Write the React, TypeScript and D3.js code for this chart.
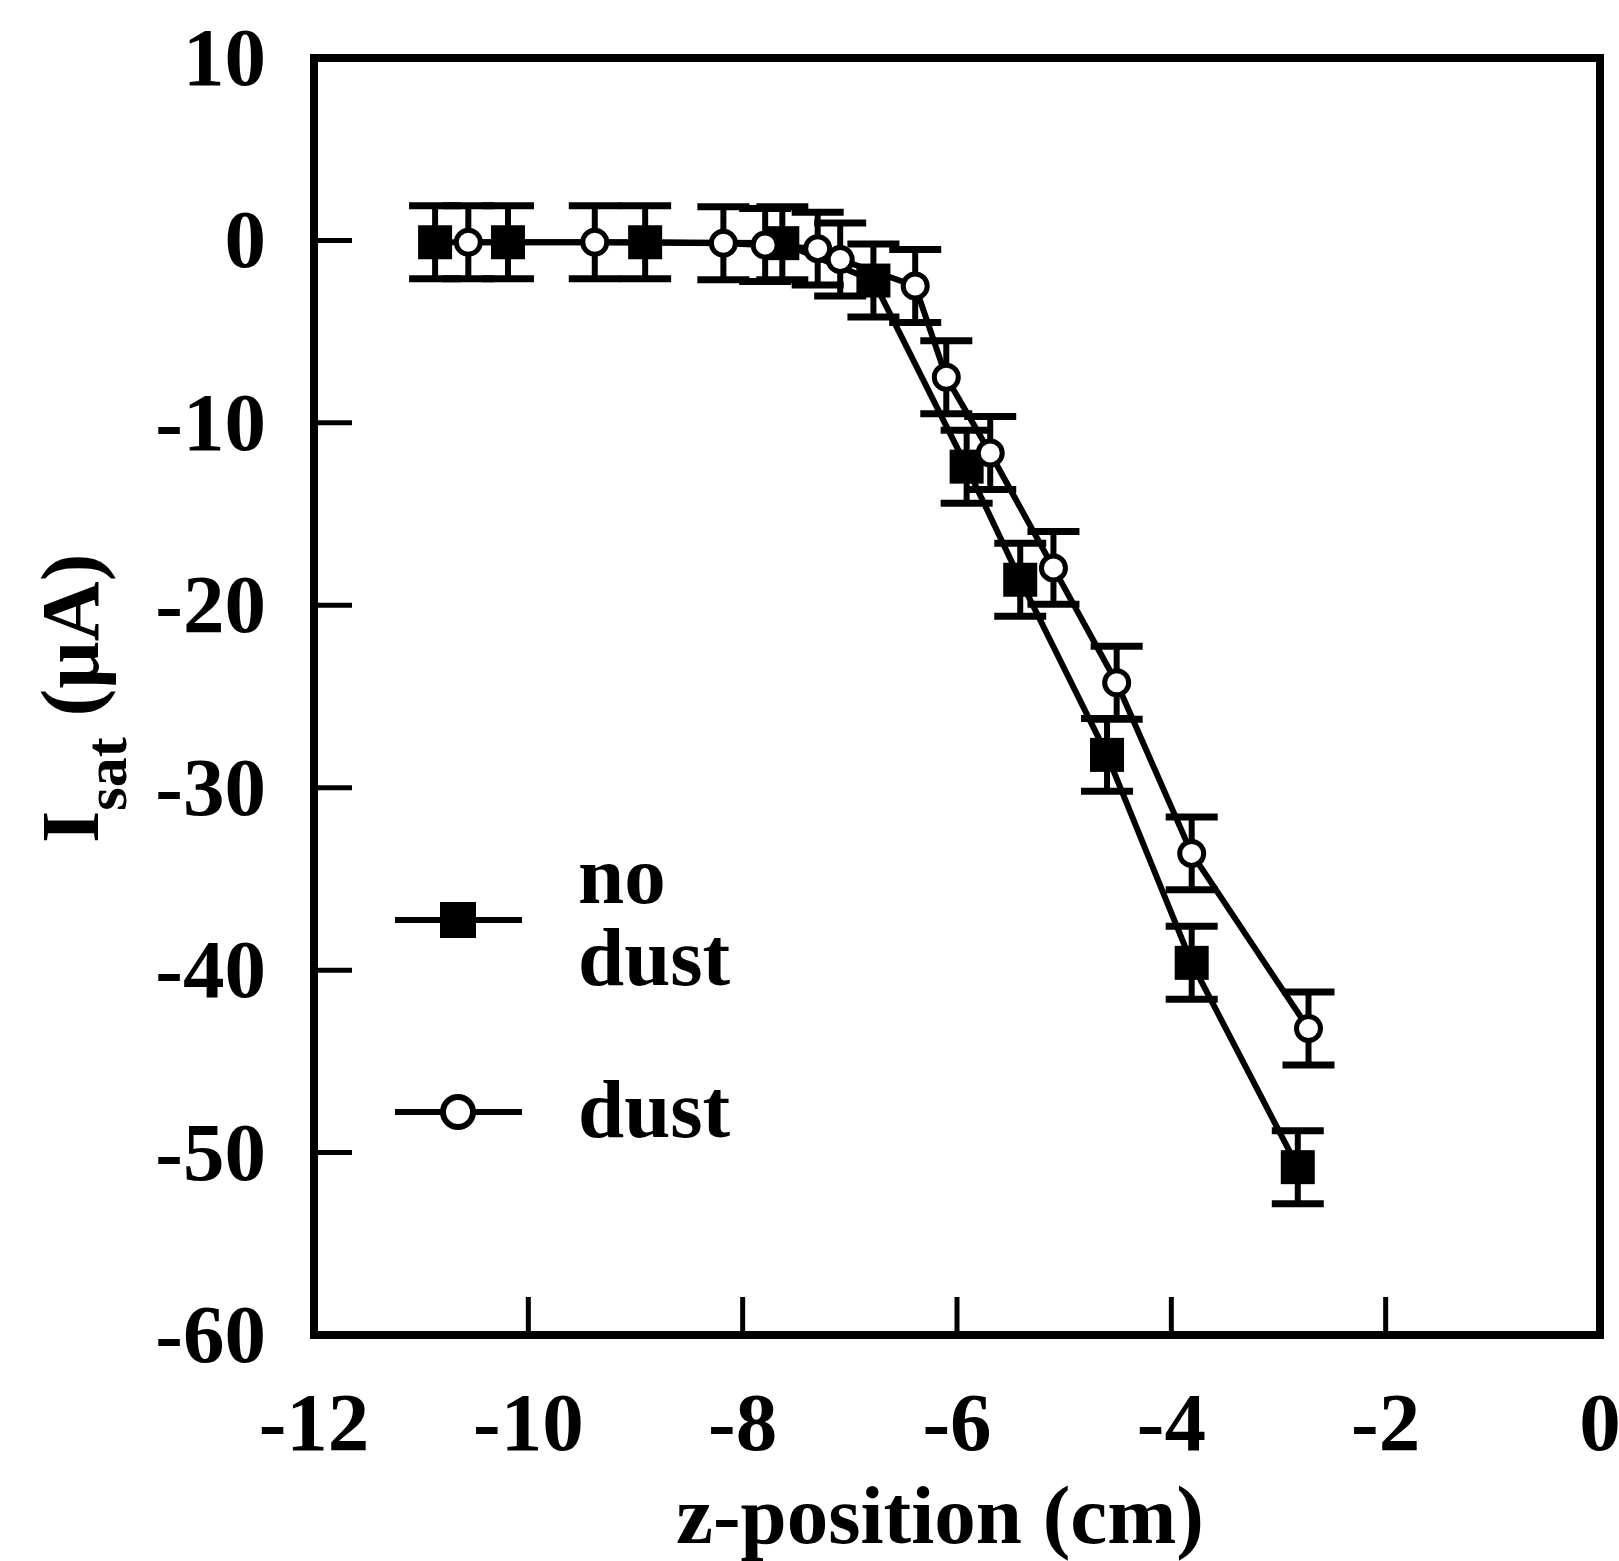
import React from "react";
import * as d3 from "d3";

// z-position (cm) and saturation current (µA) for the two probe runs
const noDustZ = [-10.87, -10.19, -8.91, -7.63, -6.78, -5.91, -5.41, -4.6, -3.81, -2.82];
const noDustI = [-0.1, -0.1, -0.1, -0.15, -2.2, -12.4, -18.6, -28.2, -39.6, -50.8];
const noDustErr = [2, 2, 2, 2, 2, 2, 2, 2, 2, 2];

const dustZ = [-10.56, -9.38, -8.18, -7.79, -7.3, -7.09, -6.39, -6.1, -5.69, -5.1, -4.51, -3.81, -2.72];
const dustI = [-0.1, -0.1, -0.15, -0.25, -0.45, -1.05, -2.5, -7.5, -11.65, -17.95, -24.25, -33.6, -43.2];
const dustErr = [2, 2, 2, 2, 2, 2, 2, 2, 2, 2, 2, 2, 2];

const xTicks = [-12, -10, -8, -6, -4, -2, 0];
const yTicks = [10, 0, -10, -20, -30, -40, -50, -60];

const W = 1619;
const H = 1561;
const FONT = "'Liberation Serif', 'Times New Roman', serif";

const x = d3.scaleLinear().domain([-12, 0]).range([314, 1600]);
const y = d3.scaleLinear().domain([-60, 10]).range([1335, 58]);

type Pt = { z: number; v: number; e: number };

const zip = (zs: number[], vs: number[], es: number[]): Pt[] =>
  zs.map((z, i) => ({ z, v: vs[i], e: es[i] }));

const line = d3
  .line<Pt>()
  .x((d) => x(d.z))
  .y((d) => y(d.v));

function Series({ pts, marker }: { pts: Pt[]; marker: "square" | "circle" }) {
  const cap = 26;
  return (
    <g>
      <path d={line(pts) || ""} fill="none" stroke="#000" strokeWidth={6} strokeLinejoin="round" />
      {pts.map((d, i) => {
        const cx = x(d.z);
        const y1 = y(d.v + d.e);
        const y2 = y(d.v - d.e);
        return (
          <g key={"e" + i} stroke="#000">
            <line x1={cx} x2={cx} y1={y1} y2={y2} strokeWidth={6} />
            <line x1={cx - cap} x2={cx + cap} y1={y1} y2={y1} strokeWidth={7} />
            <line x1={cx - cap} x2={cx + cap} y1={y2} y2={y2} strokeWidth={7} />
          </g>
        );
      })}
      {pts.map((d, i) =>
        marker === "square" ? (
          <rect key={"m" + i} x={x(d.z) - 17} y={y(d.v) - 17} width={34} height={34} fill="#000" />
        ) : (
          <circle key={"m" + i} cx={x(d.z)} cy={y(d.v)} r={12} fill="#fff" stroke="#000" strokeWidth={5} />
        )
      )}
    </g>
  );
}

export default function App() {
  const noDust = zip(noDustZ, noDustI, noDustErr);
  const dust = zip(dustZ, dustI, dustErr);
  const [x0, x1] = x.range();
  const [yb, yt] = y.range();
  const tickLen = 38;

  return (
    <svg
      width={W}
      height={H}
      viewBox={`0 0 ${W} ${H}`}
      style={{ position: "absolute", left: 0, top: 0, display: "block", background: "#fff" }}
    >
      <rect x={0} y={0} width={W} height={H} fill="#fff" />

      {/* y ticks and labels */}
      {yTicks.map((t) => (
        <g key={"y" + t}>
          <line x1={x0} x2={x0 + tickLen} y1={y(t)} y2={y(t)} stroke="#000" strokeWidth={5} />
          <text
            x={266}
            y={y(t) + 27}
            textAnchor="end"
            fontFamily={FONT}
            fontWeight="bold"
            fontSize={83}
            fill="#000"
          >
            {t}
          </text>
        </g>
      ))}

      {/* x ticks and labels */}
      {xTicks.map((t) => (
        <g key={"x" + t}>
          <line x1={x(t)} x2={x(t)} y1={yb} y2={yb - tickLen} stroke="#000" strokeWidth={5} />
          <text
            x={x(t)}
            y={1450}
            textAnchor="middle"
            fontFamily={FONT}
            fontWeight="bold"
            fontSize={83}
            fill="#000"
          >
            {t}
          </text>
        </g>
      ))}

      {/* frame */}
      <rect x={x0} y={yt} width={x1 - x0} height={yb - yt} fill="none" stroke="#000" strokeWidth={8} />

      <Series pts={noDust} marker="square" />
      <Series pts={dust} marker="circle" />

      {/* legend */}
      <g>
        <line x1={395} x2={522} y1={920} y2={920} stroke="#000" strokeWidth={6} />
        <rect x={458 - 18} y={920 - 18} width={36} height={36} fill="#000" />
        <text x={578} y={903} fontFamily={FONT} fontWeight="bold" fontSize={83} fill="#000">
          no
        </text>
        <text x={578} y={985} fontFamily={FONT} fontWeight="bold" fontSize={83} fill="#000">
          dust
        </text>
        <line x1={395} x2={522} y1={1112} y2={1112} stroke="#000" strokeWidth={6} />
        <circle cx={458} cy={1112} r={15} fill="#fff" stroke="#000" strokeWidth={6} />
        <text x={578} y={1137} fontFamily={FONT} fontWeight="bold" fontSize={83} fill="#000">
          dust
        </text>
      </g>

      {/* axis titles */}
      <text
        x={940}
        y={1543}
        textAnchor="middle"
        fontFamily={FONT}
        fontWeight="bold"
        fontSize={83}
        fill="#000"
      >
        z-position (cm)
      </text>
      <text
        transform="translate(98,843) rotate(-90)"
        fontFamily={FONT}
        fontWeight="bold"
        fontSize={83}
        fill="#000"
      >
        I
        <tspan fontSize={60} dy={28}>
          sat
        </tspan>
        <tspan dy={-28}> (µA)</tspan>
      </text>
    </svg>
  );
}
